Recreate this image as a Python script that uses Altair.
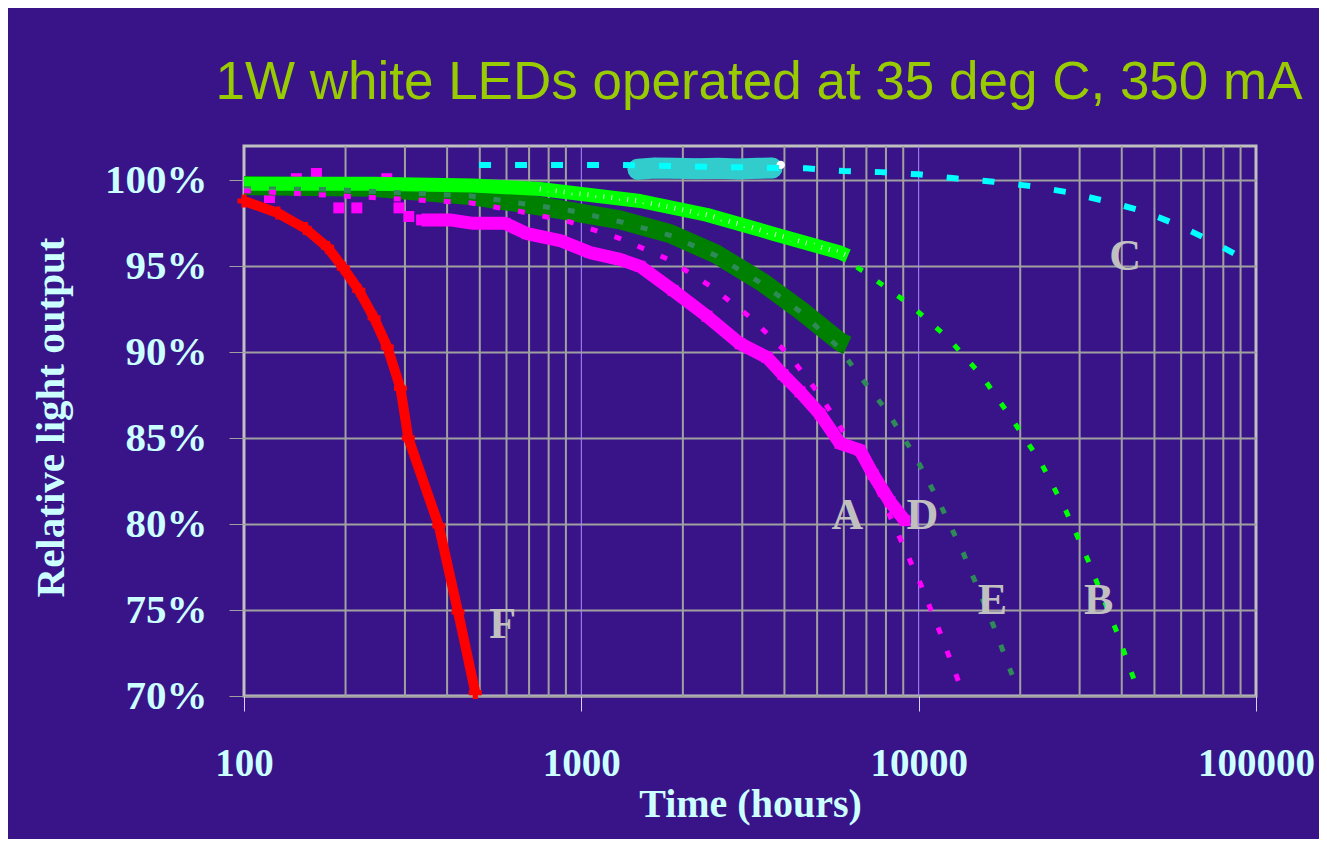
import altair as alt
import pandas as pd

# ---------------- data ----------------
# F (red crosses)
f_hours = [100, 126, 152, 177, 197, 219, 243, 266, 291, 307, 378, 431, 485]
f_pct = [98.8, 98.1, 97.2, 96.1, 94.9, 93.6, 92.0, 90.3, 87.9, 85.0, 79.9, 74.9, 70.2]

# A (magenta squares)
a_hours = [119, 191, 216, 288, 308, 336, 408, 477, 594, 690, 865, 1061, 1302, 1493,
           1870, 2358, 2954, 3552, 3961, 4448, 5100, 5846, 6700, 7320, 8222, 9110]
a_pct = [99.0, 98.4, 98.4, 98.4, 97.9, 97.7, 97.7, 97.5, 97.5, 96.9, 96.5, 95.8, 95.4, 95.0,
         93.6, 92.1, 90.5, 89.7, 88.7, 87.7, 86.4, 84.7, 84.3, 82.9, 81.3, 80.2]
a_out_hours = [143, 164, 265]
a_out_pct = [100.1, 100.4, 100.1]
a_band_start = 336

# A fit (magenta dashed)
afit_hours = [100, 466, 655, 919, 1309, 1814, 2432, 3184, 4100, 5100, 6150, 7400, 8703, 10140, 11570, 13270]
afit_pct = [99.4, 98.7, 98.2, 97.6, 96.6, 95.4, 93.8, 92.0, 89.9, 87.5, 85.0, 82.4, 79.4, 76.5, 73.7, 70.6]

# E (dark green stars) and its fit (dashed)
e_hours = [100, 241, 477, 753, 1302, 1832, 2519, 3425, 4500, 5846, 6150]
e_pct = [99.7, 99.6, 99.1, 98.5, 97.7, 96.9, 95.7, 94.1, 92.4, 90.6, 90.4]
efit_hours = [100, 466, 925, 1302, 1832, 2519, 3425, 4500, 5846, 6460, 8040, 9800, 11620, 13570, 16650, 18950]
efit_pct = [99.7, 99.1, 98.25, 97.6, 96.8, 95.6, 94.0, 92.3, 90.2, 89.0, 86.6, 83.9, 81.1, 78.3, 74.1, 71.2]

# B (bright green triangles) and its fit (dashed)
b_hours = [100, 241, 477, 753, 1493, 2350, 3700, 5846, 6170]
b_pct = [99.8, 99.8, 99.7, 99.5, 98.8, 98.0, 96.9, 95.8, 95.6]
bfit_hours = [100, 477, 1000, 1493, 2350, 3700, 5846, 6980, 9380, 12260, 15430, 18780, 23000, 27290, 31700, 38900, 43780]
bfit_pct = [99.8, 99.7, 99.4, 98.9, 98.1, 97.0, 95.6, 94.6, 92.8, 90.8, 88.6, 86.2, 83.6, 80.8, 77.95, 73.6, 70.8]

# C (cyan circles) and its fit (dashed)
c_hours = [1472, 1654, 1895, 2203, 2542, 2914, 3340, 3675]
c_pct = [100.65, 100.72, 100.7, 100.68, 100.7, 100.66, 100.7, 100.72]
c_last_hours = [3900]
c_last_pct = [100.9]
cfit_hours = [446, 1284, 2791, 4634, 6008, 7719, 10000, 12800, 16670, 21470, 27530, 35670, 46240, 59530, 75340, 91530]
cfit_pct = [100.9, 100.9, 100.77, 100.7, 100.54, 100.48, 100.35, 100.12, 99.92, 99.67, 99.32, 98.80, 98.22, 97.35, 96.37, 95.46]

# curve letters
label_text = ["A", "D", "E", "B", "C", "F"]
label_hours = [6152, 10265, 16556, 34140, 40900, 585]
label_pct = [79.7, 79.7, 74.8, 74.8, 94.8, 73.4]

# axis ticks / grid
x_label_values = [100, 1000, 10000, 100000]
x_minor_grid = [200, 300, 400, 500, 600, 700, 800, 900,
                2000, 3000, 4000, 5000, 6000, 7000, 8000, 9000,
                20000, 30000, 40000, 50000, 60000, 70000, 80000, 90000]
x_decade_lines = [1000, 10000]
y_values = [70, 75, 80, 85, 90, 95, 100]


def frame(h, p):
    return pd.DataFrame({"hours": h, "pct": p})


SERIF = "Liberation Serif"
LABEL_COLOR = "#ccffff"

X = alt.X(
    "hours:Q",
    scale=alt.Scale(type="log", domain=[100, 100000], nice=False),
    axis=alt.Axis(
        values=x_label_values, format="d", grid=False, domain=False,
        ticks=True, tickSize=15, tickColor="#d8d0f8", tickWidth=1,
        labelFont=SERIF, labelFontWeight="bold", labelFontSize=39, labelColor=LABEL_COLOR,
        labelPadding=33, labelFlush=False, labelOverlap=False, labelBound=False,
        title="Time (hours)", titleFont=SERIF, titleFontWeight="bold", titleFontSize=40,
        titleColor=LABEL_COLOR, titleBaseline="alphabetic", titleY=120, titleX=506,
        titleAlign="center",
    ),
)
Y = alt.Y(
    "pct:Q",
    scale=alt.Scale(domain=[70, 102], nice=False, zero=False),
    axis=alt.Axis(
        values=y_values, labelExpr="datum.value + '%'", grid=True, gridColor="#a0a0a0",
        gridWidth=2, domain=False, ticks=True, tickSize=15, tickColor="#a0a0a0", tickWidth=1,
        labelFont=SERIF, labelFontWeight="bold", labelFontSize=41, labelColor=LABEL_COLOR,
        labelPadding=22, labelFlush=False, labelOverlap=False, labelBaseline="middle",
        title="Relative light output", titleFont=SERIF, titleFontWeight="bold", titleFontSize=41,
        titleColor=LABEL_COLOR, titleAngle=270, titleBaseline="alphabetic", titleX=-181,
        titleY=271, titleAlign="center",
    ),
)

grid = alt.Chart(pd.DataFrame({"hours": x_minor_grid})).mark_rule(
    color="#a0a0a0", strokeWidth=2).encode(x=X)
decades = alt.Chart(pd.DataFrame({"hours": x_decade_lines})).mark_rule(
    color="#a98cff", strokeWidth=1).encode(x=X)

a_df = frame(a_hours, a_pct)
a_band = alt.Chart(a_df[a_df["hours"] >= a_band_start]).mark_line(
    color="#ff00ff", strokeWidth=13, strokeJoin="round").encode(x=X, y=Y)
a_pts = alt.Chart(pd.concat([a_df, frame(a_out_hours, a_out_pct)])).mark_point(
    shape="square", filled=True, size=120, color="#ff00ff", opacity=1).encode(x=X, y=Y)

e_band = alt.Chart(frame(e_hours, e_pct)).mark_line(
    color="#008000", strokeWidth=19, strokeJoin="round").encode(x=X, y=Y)
b_band = alt.Chart(frame(b_hours, b_pct)).mark_line(
    color="#00ff00", strokeWidth=14, strokeJoin="round").encode(x=X, y=Y)
b_streak = alt.Chart(frame(b_hours[3:], b_pct[3:])).mark_line(
    color="#ffffff", strokeWidth=5, strokeDash=[1, 7], opacity=0.8).encode(x=X, y=Y)

c_blob = alt.Chart(frame(c_hours, c_pct)).mark_line(
    color="#33cccc", strokeWidth=21, strokeCap="round", strokeJoin="round").encode(x=X, y=Y)
c_pts = alt.Chart(frame(c_hours, c_pct)).mark_point(
    shape="circle", filled=True, size=420, color="#33cccc", opacity=1).encode(x=X, y=Y)
c_last = alt.Chart(frame(c_last_hours, c_last_pct)).mark_point(
    shape="circle", filled=True, size=70, color="#ffffff", opacity=1).encode(x=X, y=Y)

a_fit = alt.Chart(frame(afit_hours, afit_pct)).mark_line(
    color="#ff00ff", strokeWidth=5, strokeDash=[7, 18]).encode(x=X, y=Y)
e_fit = alt.Chart(frame(efit_hours, efit_pct)).mark_line(
    color="#2e8b57", strokeWidth=5, strokeDash=[7, 18]).encode(x=X, y=Y)
b_fit = alt.Chart(frame(bfit_hours, bfit_pct)).mark_line(
    color="#00ff00", strokeWidth=5, strokeDash=[7, 18]).encode(x=X, y=Y)
c_fit = alt.Chart(frame(cfit_hours, cfit_pct)).mark_line(
    color="#00ffff", strokeWidth=6, strokeDash=[12, 24], strokeDashOffset=20).encode(x=X, y=Y)

f_line = alt.Chart(frame(f_hours, f_pct)).mark_line(
    color="#ff0000", strokeWidth=10).encode(x=X, y=Y)
f_pts = alt.Chart(frame(f_hours, f_pct)).mark_point(
    shape="cross", filled=True, size=170, color="#ff0000", opacity=1).encode(x=X, y=Y)

letters = alt.Chart(pd.DataFrame({"hours": label_hours, "pct": label_pct, "t": label_text})).mark_text(
    font=SERIF, fontWeight="bold", fontSize=44, color="#c0c0c0", baseline="alphabetic", align="center"
).encode(x=X, y=Y, text="t:N")

chart = alt.layer(
    grid, decades, a_band, a_pts, e_band, b_band, b_streak, c_blob, c_pts, c_last,
    a_fit, e_fit, b_fit, c_fit, f_line, f_pts, letters,
).properties(
    width=1012,
    height=550,
    autosize=alt.AutoSizeParams(type="none"),
    padding={"left": 236, "top": 138, "right": 63, "bottom": 143},
    background="#391489",
    title=alt.TitleParams(
        "1W white LEDs operated at 35 deg C, 350 mA", font="Liberation Sans", fontSize=53,
        fontWeight="normal", color="#99cc00", anchor="middle", baseline="alphabetic",
        offset=47, dx=9, dy=54,
    ),
).configure_view(stroke="#c0c0c0", strokeWidth=3)

chart.save("out.html", embed_options={"renderer": "svg", "actions": False})
